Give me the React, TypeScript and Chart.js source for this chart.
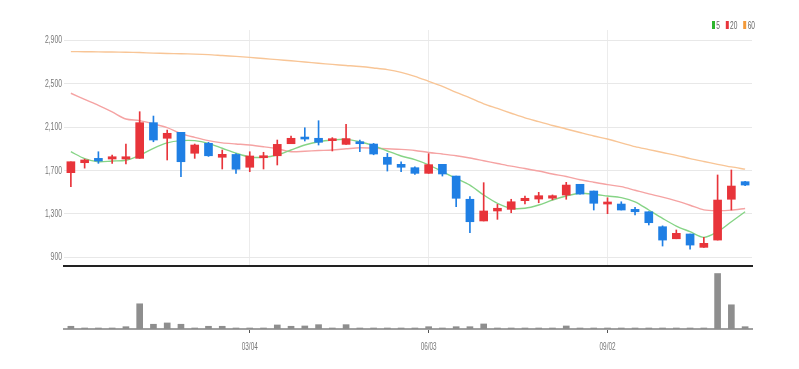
import React, { useEffect, useRef } from 'react';
import { Chart, registerables } from 'chart.js';

Chart.register(...registerables);

const FONT = "'Liberation Sans', Arial, sans-serif";

const labels = [
  '12/03', '12/10', '12/17', '12/24', '12/31', '01/07', '01/14', '01/21', '01/28', '02/04',
  '02/11', '02/18', '02/25', '03/04', '03/11', '03/18', '03/25', '04/01', '04/08', '04/15',
  '04/22', '04/29', '05/06', '05/13', '05/20', '05/27', '06/03', '06/10', '06/17', '06/24',
  '07/01', '07/08', '07/15', '07/22', '07/29', '08/05', '08/12', '08/19', '08/26', '09/02',
  '09/09', '09/16', '09/23', '09/30', '10/07', '10/14', '10/21', '10/28', '11/04', '11/11',
];
const shownLabels = ['03/04', '06/03', '09/02'];
const yTicks = [900, 1300, 1700, 2100, 2500, 2900];

const opens = [
  1680, 1772, 1812, 1806, 1806, 1812, 2141, 1997, 2052, 1859,
  1951, 1822, 1848, 1730, 1818, 1836, 1947, 2006, 1997, 1975,
  1941, 1963, 1944, 1822, 1757, 1726, 1674, 1757, 1649, 1435,
  1235, 1327, 1342, 1422, 1437, 1445, 1474, 1573, 1511, 1391,
  1391, 1342, 1320, 1182, 1071, 1115, 992, 1059, 1435, 1597,
];
const highs = [
  1781, 1805, 1873, 1843, 1944, 2242, 2202, 2073, 2052, 1944,
  1960, 1889, 1855, 1873, 1868, 1981, 2018, 2094, 2159, 2003,
  2126, 1981, 1950, 1858, 1781, 1735, 1855, 1757, 1649, 1459,
  1588, 1388, 1435, 1465, 1499, 1475, 1591, 1573, 1511, 1449,
  1412, 1360, 1320, 1190, 1152, 1115, 1084, 1659, 1705, 1600,
];
const lows = [
  1551, 1722, 1766, 1766, 1760, 1812, 1965, 1797, 1643, 1812,
  1830, 1714, 1674, 1689, 1714, 1751, 1947, 1972, 1935, 1880,
  1941, 1873, 1845, 1695, 1689, 1665, 1674, 1649, 1366, 1127,
  1235, 1250, 1311, 1391, 1403, 1430, 1435, 1483, 1336, 1302,
  1336, 1290, 1198, 1004, 1071, 974, 992, 1059, 1336, 1560,
];
const closes = [
  1781, 1797, 1788, 1827, 1827, 2141, 1981, 2043, 1781, 1935,
  1836, 1849, 1712, 1834, 1834, 1941, 1997, 1990, 1960, 1990,
  1994, 1947, 1852, 1757, 1730, 1674, 1754, 1668, 1444, 1228,
  1327, 1352, 1412, 1444, 1468, 1468, 1566, 1483, 1398, 1410,
  1336, 1320, 1219, 1059, 1121, 1013, 1029, 1428, 1557, 1566,
];

const ma5 = [
  1873, 1810, 1781, 1788, 1795, 1840, 1905, 1955, 1975, 1975,
  1950, 1905, 1860, 1825, 1822, 1843, 1889, 1935, 1965, 1981,
  1987, 1965, 1929, 1880, 1834, 1800, 1752, 1689, 1628, 1566,
  1474, 1398, 1352, 1352, 1382, 1428, 1465, 1490, 1481, 1465,
  1450, 1412, 1336, 1259, 1188, 1136, 1084, 1136, 1228, 1320,
];
const ma20 = [
  2412, 2355, 2300, 2240, 2175, 2160, 2130, 2095, 2040, 2005,
  1975, 1955, 1945, 1935, 1919, 1900, 1873, 1878, 1884, 1889,
  1900, 1910, 1905, 1900, 1895, 1885, 1866, 1852, 1836, 1815,
  1790, 1765, 1740, 1718, 1695, 1668, 1645, 1615, 1592, 1570,
  1551, 1518, 1485, 1455, 1420, 1380, 1337, 1330, 1335, 1350,
];
const ma60 = [
  2796, 2795, 2793, 2792, 2790, 2787, 2782, 2779, 2776, 2773,
  2768, 2760, 2752, 2743, 2732, 2722, 2711, 2700, 2688, 2678,
  2668, 2658, 2645, 2630, 2605, 2568, 2522, 2475, 2420, 2370,
  2315, 2272, 2228, 2185, 2150, 2115, 2083, 2050, 2018, 1990,
  1955, 1920, 1893, 1866, 1840, 1810, 1783, 1757, 1733, 1713,
];
const volumes = [
  27, 10, 10, 10, 23, 250, 47, 60, 47, 10,
  27, 27, 10, 10, 10, 40, 27, 30, 43, 10,
  43, 10, 10, 10, 10, 10, 23, 10, 23, 23,
  50, 10, 10, 5, 10, 5, 30, 5, 5, 10,
  5, 5, 10, 10, 5, 10, 10, 550, 240, 23,
];

const UP = '#e8343a';
const DOWN = '#1f7fe4';
const legendItems = [
  { label: '5', box: '#2db52d', line: '#86d486' },
  { label: '20', box: '#e8333a', line: '#f5a3a3' },
  { label: '60', box: '#f39a3a', line: '#f8c596' },
];

const isShown = (i: number) => shownLabels.includes(labels[i]);

// Draws axis labels horizontally condensed, positioned by the chart's own scales.
const narrowLabels = {
  id: 'narrowLabels',
  afterDraw(chart: any, _args: any, opts: any) {
    if (!opts || !opts.axis) return;
    const ctx = chart.ctx;
    ctx.save();
    ctx.font = `${opts.size}px ${FONT}`;
    ctx.fillStyle = '#777';
    ctx.textBaseline = 'middle';
    if (opts.axis === 'y') {
      const s = chart.scales.y;
      ctx.textAlign = 'right';
      yTicks.forEach((v) => {
        ctx.save();
        ctx.translate(s.right - 2, s.getPixelForValue(v));
        ctx.scale(opts.squeeze, 1);
        ctx.fillText(v.toLocaleString('en-US'), 0, 0);
        ctx.restore();
      });
    } else {
      const s = chart.scales.x;
      ctx.textAlign = 'center';
      labels.forEach((l, i) => {
        if (!isShown(i)) return;
        ctx.save();
        ctx.translate(s.getPixelForValue(i), s.top + opts.offset);
        ctx.scale(opts.squeeze, 1);
        ctx.fillText(l, 0, 0);
        ctx.restore();
      });
    }
    ctx.restore();
  },
};

export default function App() {
  const priceRef = useRef<HTMLCanvasElement>(null);
  const volRef = useRef<HTMLCanvasElement>(null);

  useEffect(() => {
    const candleColors = opens.map((o, i) => (closes[i] >= o ? UP : DOWN));

    const price = new Chart(priceRef.current as HTMLCanvasElement, {
      type: 'bar',
      data: {
        labels,
        datasets: [
          { type: 'line', label: '60', data: ma60, borderColor: legendItems[2].line, borderWidth: 1.4, pointRadius: 0, tension: 0.3, order: 5 } as any,
          { type: 'line', label: '20', data: ma20, borderColor: legendItems[1].line, borderWidth: 1.4, pointRadius: 0, tension: 0.3, order: 4 } as any,
          { type: 'line', label: '5', data: ma5, borderColor: legendItems[0].line, borderWidth: 1.4, pointRadius: 0, tension: 0.3, order: 3 } as any,
          {
            type: 'bar', label: 'wick', data: lows.map((l, i) => [l, highs[i]]),
            backgroundColor: candleColors, barThickness: 1, grouped: false, order: 2,
          } as any,
          {
            type: 'bar', label: 'body', data: opens.map((o, i) => [o, closes[i]]),
            backgroundColor: candleColors, barThickness: 8, grouped: false, minBarLength: 2, order: 1,
          } as any,
        ],
      },
      plugins: [narrowLabels as any],
      options: {
        animation: false,
        responsive: false,
        maintainAspectRatio: false,
        layout: { padding: { top: 30, bottom: 2, left: 0, right: 47 } },
        plugins: {
          legend: { display: false },
          tooltip: { enabled: false },
          narrowLabels: { axis: 'y', size: 11, squeeze: 0.62 },
        },
        scales: {
          x: {
            offset: true,
            afterFit: (s: any) => { s.height = 0; },
            ticks: { display: false, autoSkip: false },
            grid: {
              offset: false,
              drawTicks: false,
              color: (c: any) => (isShown(c.index) ? '#ececec' : 'rgba(0,0,0,0)'),
            },
            border: { color: '#222', width: 2 },
          },
          y: {
            min: 820,
            max: 2995,
            afterBuildTicks: (s: any) => { s.ticks = yTicks.map((v) => ({ value: v })); },
            afterFit: (s: any) => { s.width = 64; },
            ticks: { display: false },
            grid: { drawTicks: false, color: '#e8e8e8' },
            border: { display: false },
          },
        },
      } as any,
    });

    const vol = new Chart(volRef.current as HTMLCanvasElement, {
      type: 'bar',
      data: {
        labels,
        datasets: [{ data: volumes, backgroundColor: '#8e8e8e', barThickness: 6, minBarLength: 1 }],
      },
      plugins: [narrowLabels as any],
      options: {
        animation: false,
        responsive: false,
        maintainAspectRatio: false,
        layout: { padding: { top: 2, bottom: 0, left: 64, right: 47 } },
        plugins: {
          legend: { display: false },
          tooltip: { enabled: false },
          narrowLabels: { axis: 'x', size: 11, squeeze: 0.58, offset: 18 },
        },
        scales: {
          x: {
            offset: true,
            afterFit: (s: any) => { s.height = 40; },
            grid: {
              offset: false,
              drawOnChartArea: false,
              drawTicks: true,
              tickLength: 4,
              tickColor: (c: any) => (isShown(c.index) ? '#555' : 'rgba(0,0,0,0)'),
            },
            border: { color: '#a0a0a0', width: 2 },
            ticks: { display: false, autoSkip: false },
          },
          y: { display: false, min: 0, max: 585 },
        },
      } as any,
    });

    return () => {
      price.destroy();
      vol.destroy();
    };
  }, []);

  return (
    <div style={{ position: 'fixed', left: 0, top: 0, width: 799, height: 369, background: '#fff', overflow: 'hidden' }}>
      <canvas ref={priceRef} width={799} height={268} style={{ position: 'absolute', left: 0, top: 0, width: 799, height: 268 }} />
      <canvas ref={volRef} width={799} height={101} style={{ position: 'absolute', left: 0, top: 268, width: 799, height: 101 }} />
      <div style={{ position: 'absolute', left: 712, top: 19, display: 'flex', alignItems: 'center', fontFamily: FONT, fontSize: 11, color: '#666', lineHeight: '12px', transform: 'scaleX(0.6)', transformOrigin: '0 0', whiteSpace: 'nowrap' }}>
        {legendItems.map((it) => (
          <span key={it.label} style={{ display: 'flex', alignItems: 'center', marginRight: 10 }}>
            <span style={{ display: 'inline-block', width: 5, height: 8, background: it.box, marginRight: 2 }} />
            <span>{it.label}</span>
          </span>
        ))}
      </div>
    </div>
  );
}
